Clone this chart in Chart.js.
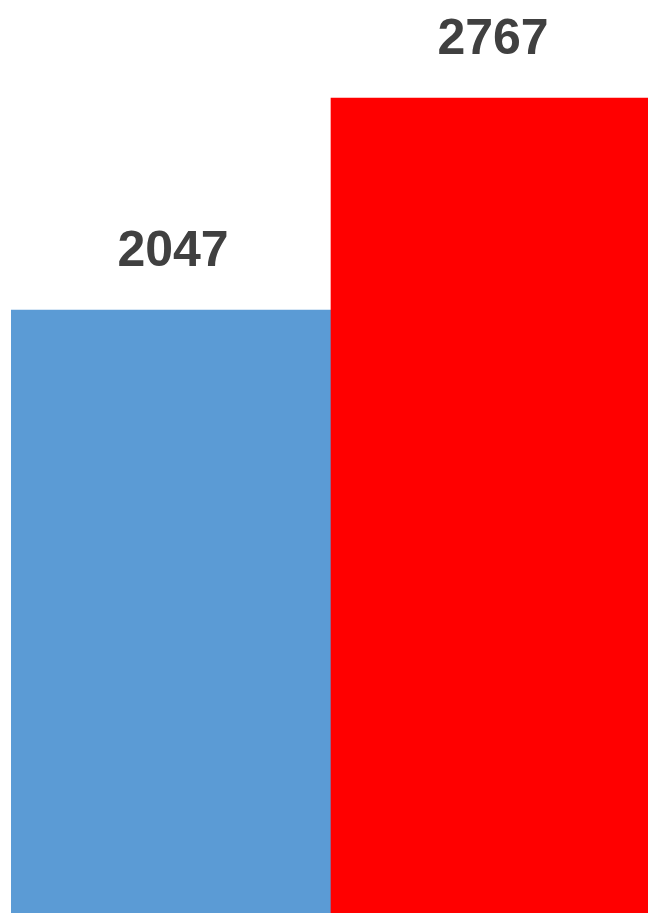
<!DOCTYPE html>
<html>
<head>
<meta charset="utf-8">
<script src="https://cdn.jsdelivr.net/npm/chart.js@4"></script>
<style>
  html, body { margin: 0; padding: 0; background: #fff; overflow: hidden; }
  #wrap { position: absolute; left: 11px; top: 0; }
</style>
</head>
<body>
<div id="wrap"><canvas id="chart" width="640" height="913"></canvas></div>
<script>
// chart data
const categories = ['A', 'B'];
const values = [2047, 2767];
const barColors = ['#5B9BD5', '#FF0000'];
const yMax = 3100;

// draw the value above each bar
const valueLabels = {
  id: 'valueLabels',
  afterDatasetsDraw(chart) {
    const ctx = chart.ctx;
    const meta = chart.getDatasetMeta(0);
    ctx.save();
    ctx.font = 'bold 50px "Liberation Sans", Arial, sans-serif';
    ctx.fillStyle = '#404040';
    ctx.textAlign = 'center';
    ctx.textBaseline = 'alphabetic';
    meta.data.forEach(function (bar, i) {
      ctx.fillText(String(values[i]), bar.x + 2, bar.y - 44);
    });
    ctx.restore();
  }
};

window.onload = function () {
  const ctx = document.getElementById('chart').getContext('2d');
  new Chart(ctx, {
    type: 'bar',
    data: {
      labels: categories,
      datasets: [
        {
          data: values,
          backgroundColor: barColors,
          borderWidth: 0,
          categoryPercentage: 1,
          barPercentage: 1
        }
      ]
    },
    options: {
      responsive: false,
      animation: false,
      layout: { padding: 0 },
      plugins: {
        legend: { display: false },
        tooltip: { enabled: false }
      },
      scales: {
        x: { display: false },
        y: { display: false, min: 0, max: yMax }
      }
    },
    plugins: [valueLabels]
  });
};
</script>
</body>
</html>
